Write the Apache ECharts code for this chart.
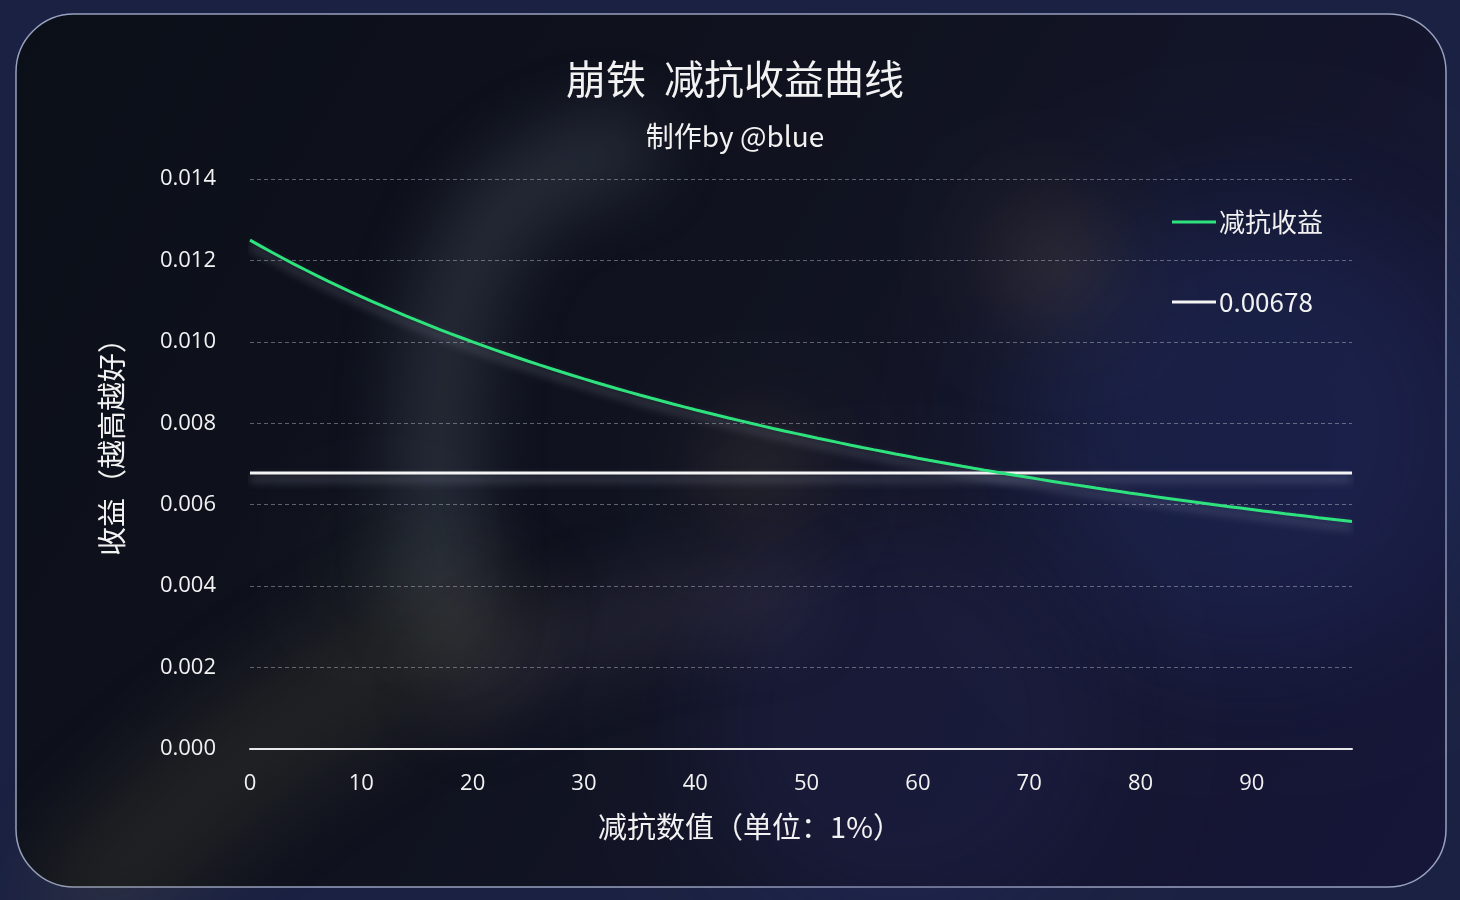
<!DOCTYPE html>
<html>
<head>
<meta charset="utf-8">
<script src="https://cdn.jsdelivr.net/npm/echarts@6/dist/echarts.min.js"></script>
<style>
  html, body { margin: 0; padding: 0; background: #1a2142; }
  #main { width: 1460px; height: 900px; }
</style>
</head>
<body>
<div id="main"></div>
<script>
// x: 减抗数值 0..99 (单位 1%)
const resDown = [];
for (let i = 0; i < 100; i++) resDown.push(String(i));

// 减抗收益
const gainValues = [
  0.0125, 0.012346, 0.012195, 0.012048, 0.011905, 0.011765, 0.011628, 0.011494, 0.011364, 0.011236,
  0.011111, 0.010989, 0.01087, 0.010753, 0.010638, 0.010526, 0.010417, 0.010309, 0.010204, 0.010101,
  0.01, 0.009901, 0.0098039, 0.0097087, 0.0096154, 0.0095238, 0.009434, 0.0093458, 0.0092593, 0.0091743,
  0.0090909, 0.009009, 0.0089286, 0.0088496, 0.0087719, 0.0086957, 0.0086207, 0.008547, 0.0084746, 0.0084034,
  0.0083333, 0.0082645, 0.0081967, 0.0081301, 0.0080645, 0.008, 0.0079365, 0.007874, 0.0078125, 0.0077519,
  0.0076923, 0.0076336, 0.0075758, 0.0075188, 0.0074627, 0.0074074, 0.0073529, 0.0072993, 0.0072464, 0.0071942,
  0.0071429, 0.0070922, 0.0070423, 0.006993, 0.0069444, 0.0068966, 0.0068493, 0.0068027, 0.0067568, 0.0067114,
  0.0066667, 0.0066225, 0.0065789, 0.0065359, 0.0064935, 0.0064516, 0.0064103, 0.0063694, 0.0063291, 0.0062893,
  0.00625, 0.0062112, 0.0061728, 0.006135, 0.0060976, 0.0060606, 0.0060241, 0.005988, 0.0059524, 0.0059172,
  0.0058824, 0.005848, 0.005814, 0.0057803, 0.0057471, 0.0057143, 0.0056818, 0.0056497, 0.005618, 0.0055866
];

// 参考线 0.00678
const refValue = 0.00678;
const refValues = resDown.map(() => refValue);

const yTicks = { min: 0, max: 0.014, interval: 0.002 };

let chartDom = document.getElementById("main");
let myChart = echarts.init(chartDom, null, { renderer: "canvas" });
let option;

const txt = "#f2f2f2";
const numFont = "'Open Sans', 'Noto Sans', sans-serif";
const cjkFont = "'Noto Sans CJK SC', sans-serif";

// soft blurred shapes: draw off-canvas, only the shadow lands on the panel
const OFF = 3000;
function blurCurve(pts, width, color, blur) {
  return {
    type: "bezierCurve",
    z: -50,
    x: -OFF,
    silent: true,
    shape: {
      x1: pts[0], y1: pts[1], cpx1: pts[2], cpy1: pts[3],
      cpx2: pts[4], cpy2: pts[5], x2: pts[6], y2: pts[7],
    },
    style: {
      fill: null,
      stroke: color,
      lineWidth: width,
      lineCap: "round",
      shadowColor: color,
      shadowBlur: blur,
      shadowOffsetX: OFF,
    },
  };
}
function blurBlob(cx, cy, r, color, blur) {
  return {
    type: "circle",
    z: -50,
    x: -OFF,
    silent: true,
    shape: { cx: cx, cy: cy, r: r },
    style: {
      fill: color,
      shadowColor: color,
      shadowBlur: blur,
      shadowOffsetX: OFF,
    },
  };
}

option = {
  backgroundColor: "#1a2142",
  animation: false,
  graphic: {
    elements: [
      // panel
      {
        type: "rect",
        z: -60,
        shape: { x: 16, y: 14, width: 1430, height: 873, r: 58 },
        style: {
          fill: {
            type: "linear", x: 0, y: 0, x2: 1, y2: 1,
            colorStops: [
              { offset: 0, color: "#0b0f18" },
              { offset: 0.45, color: "#10131f" },
              { offset: 1, color: "#16163a" },
            ],
          },
          stroke: "rgba(175,185,215,0.85)",
          lineWidth: 1.5,
        },
        silent: true,
      },
      blurBlob(1250, 430, 230, "rgba(35,50,115,0.6)", 120),
      blurBlob(900, 720, 200, "rgba(45,42,100,0.5)", 100),
      blurCurve([445, 610, 415, 300, 470, 175, 620, 150], 70, "rgba(105,116,134,0.55)", 70),
      blurBlob(1050, 260, 60, "rgba(145,118,85,0.45)", 80),
      blurBlob(760, 470, 60, "rgba(105,88,75,0.45)", 70),
      blurCurve([470, 690, 560, 630, 670, 600, 780, 600], 70, "rgba(110,96,118,0.45)", 70),
      blurCurve([90, 900, 200, 780, 340, 680, 470, 620], 110, "rgba(130,124,72,0.42)", 90),
      blurBlob(380, 560, 55, "rgba(80,100,75,0.3)", 60),
      // axis names
      {
        type: "text",
        z: 10,
        x: 112,
        y: 440,
        rotation: Math.PI / 2,
        style: {
          text: "收益（越高越好）",
          fill: txt,
          font: "29px " + cjkFont,
          align: "center",
          verticalAlign: "middle",
        },
      },
      {
        type: "text",
        z: 10,
        x: 750,
        y: 827,
        style: {
          text: "减抗数值（单位：1%）",
          fill: txt,
          font: "29px " + cjkFont,
          align: "center",
          verticalAlign: "middle",
        },
      },
    ],
  },
  title: [
    {
      text: "崩铁  减抗收益曲线",
      left: 730,
      top: 54,
      textAlign: "center",
      textStyle: { color: txt, fontSize: 40, fontWeight: "normal", fontFamily: cjkFont },
    },
    {
      text: "制作by @blue",
      left: 730,
      top: 117,
      textAlign: "center",
      textStyle: { color: txt, fontSize: 28, fontWeight: "normal", fontFamily: cjkFont },
    },
  ],
  legend: {
    orient: "vertical",
    left: 1172,
    top: 209,
    padding: 0,
    itemWidth: 44,
    itemHeight: 3,
    itemGap: 54,
    icon: "rect",
    textStyle: { color: txt, fontSize: 26, fontFamily: cjkFont, padding: [0, 0, 0, -2] },
    data: ["减抗收益", "0.00678"],
  },
  grid: {
    left: 250,
    right: 108,
    top: 179,
    bottom: 151,
    containLabel: false,
  },
  xAxis: {
    type: "category",
    data: resDown,
    boundaryGap: false,
    axisLine: { lineStyle: { color: "#e8e8e8", width: 2 } },
    axisTick: { show: false },
    axisLabel: {
      color: txt,
      fontSize: 22,
      fontFamily: numFont,
      margin: 24,
      interval: (i) => i % 10 === 0,
    },
    splitLine: { show: false },
  },
  yAxis: {
    type: "value",
    min: yTicks.min,
    max: yTicks.max,
    interval: yTicks.interval,
    axisLine: { show: false },
    axisTick: { show: false },
    axisLabel: {
      color: txt,
      fontSize: 22,
      fontFamily: numFont,
      margin: 34,
      formatter: (v) => v.toFixed(3),
    },
    splitLine: {
      lineStyle: { color: "rgba(190,195,210,0.45)", type: [4, 3], width: 1 },
    },
  },
  series: [
    {
      name: "减抗收益",
      type: "line",
      data: gainValues,
      symbol: "none",
      smooth: false,
      z: 5,
      itemStyle: { color: "#2ee37d" },
      lineStyle: {
        color: "#2ee37d",
        width: 3,
        shadowColor: "rgba(190,195,215,0.45)",
        shadowBlur: 10,
        shadowOffsetY: 6,
      },
    },
    {
      name: "0.00678",
      type: "line",
      data: refValues,
      symbol: "none",
      z: 4,
      itemStyle: { color: "#f4f4f4" },
      lineStyle: {
        color: "#f4f4f4",
        width: 3,
        shadowColor: "rgba(190,195,215,0.5)",
        shadowBlur: 10,
        shadowOffsetY: 6,
      },
    },
  ],
};

option && myChart.setOption(option);
</script>
</body>
</html>
